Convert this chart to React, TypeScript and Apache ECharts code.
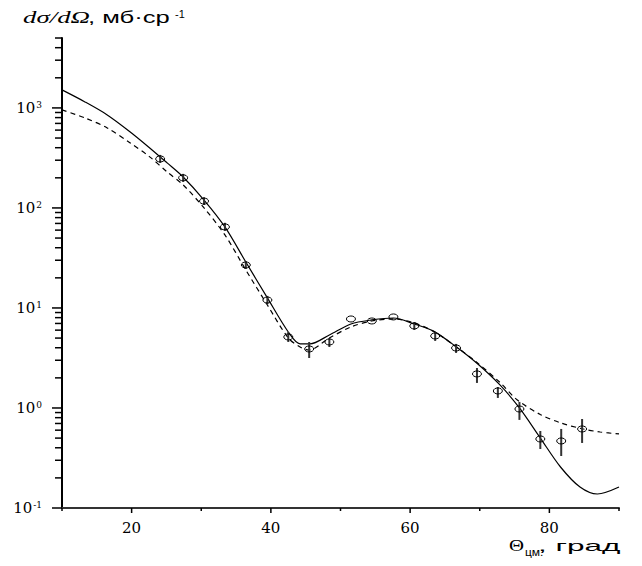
import React, { useEffect, useRef } from "react";
import * as echarts from "echarts";

// Experimental points: angle (deg, c.m.), cross-section (mb/sr), error bar bounds
const thetaExp = [24.1, 27.4, 30.4, 33.4, 36.4, 39.5, 42.5, 45.5, 48.4, 51.5, 54.5, 57.6, 60.6, 63.6, 66.6, 69.6, 72.6, 75.7, 78.7, 81.7, 84.7];
const sigmaExp = [309, 200, 117, 64.6, 26.9, 12.0, 5.13, 3.89, 4.57, 7.76, 7.41, 8.13, 6.61, 5.25, 3.98, 2.19, 1.48, 0.977, 0.49, 0.468, 0.617];
const sigmaLow = [282, 182, 107, 59, 24.5, 10.9, 4.57, 3.16, 4.07, 7.76, 7.41, 8.13, 6.03, 4.68, 3.55, 1.78, 1.26, 0.76, 0.389, 0.331, 0.447];
const sigmaHigh = [339, 219, 128, 71, 29.5, 13.2, 5.75, 4.57, 5.01, 7.76, 7.41, 8.13, 7.24, 5.75, 4.37, 2.51, 1.62, 1.15, 0.589, 0.617, 0.776];

// Solid theoretical curve
const thetaSolid = [10, 13.3, 16.5, 19.8, 22.6, 25.1, 27.4, 30.4, 33.4, 36.4, 39.5, 42.5, 44.2, 45.6, 48.4, 51.5, 54.5, 57.6, 60.6, 63.3, 66.6, 69.6, 72.9, 75.7, 78.7, 81.6, 84.4, 86.9, 90];
const sigmaSolid = [1514, 1148, 851, 575, 398, 282, 204, 120, 64.6, 28.8, 12.6, 5.75, 4.37, 4.37, 5.37, 6.92, 7.59, 7.94, 6.92, 5.9, 4.1, 2.8, 1.7, 1.0, 0.5, 0.257, 0.162, 0.138, 0.162];

// Dashed theoretical curve
const thetaDashed = [10, 13.3, 16.5, 19.8, 22.6, 25.1, 27.4, 30.4, 33.4, 36.4, 39.5, 42.5, 44.2, 45.5, 48.4, 51.5, 54.5, 57.6, 60.6, 63.6, 66.6, 69.6, 72.9, 75.4, 78.7, 81.6, 84.7, 87.3, 90];
const sigmaDashed = [955, 794, 631, 447, 324, 229, 170, 100, 53.7, 24.0, 10.7, 5.01, 4.07, 3.8, 5.01, 6.46, 7.41, 7.76, 7.08, 5.7, 4.1, 2.85, 1.8, 1.2, 0.86, 0.71, 0.62, 0.575, 0.55];

// Axis ticks
const xMajorTicks = [20, 40, 60, 80];
const xMinorTicks = [10, 30, 50, 70, 90];
const yDecades = [0.1, 1, 10, 100, 1000];
const yMantissas = [2, 3, 4, 5, 6, 7, 8, 9];
const X_MIN = 10;
const X_MAX = 90;
const Y_MIN = 0.1;
const Y_MAX = 5000;

export default function App() {
  const ref = useRef<HTMLDivElement>(null);

  useEffect(() => {
    if (!ref.current) return;
    const chart = echarts.init(ref.current, undefined, { renderer: "svg" });

    const expData = thetaExp.map((t, i) => [t, sigmaExp[i], sigmaLow[i], sigmaHigh[i]]);
    const solidData = thetaSolid.map((t, i) => [t, sigmaSolid[i]]);
    const dashedData = thetaDashed.map((t, i) => [t, sigmaDashed[i]]);

    const yTickData: number[][] = [];
    yDecades.forEach((d) => {
      yTickData.push([X_MIN, d, 10]);
      yMantissas.forEach((m) => {
        const v = d * m;
        if (v <= Y_MAX + 1e-9) yTickData.push([X_MIN, v, 7]);
      });
    });
    const xTickData: number[][] = [
      ...xMajorTicks.map((v) => [v, Y_MIN, 5]),
      ...xMinorTicks.map((v) => [v, Y_MIN, 3]),
    ];

    const option: any = {
      animation: false,
      backgroundColor: "#ffffff",
      grid: { left: 62, right: 23, top: 38, bottom: 58, containLabel: false },
      xAxis: {
        type: "value",
        min: X_MIN,
        max: X_MAX,
        interval: 10,
        axisLine: { show: true, lineStyle: { color: "#333", width: 2 } },
        axisTick: { show: false },
        splitLine: { show: false },
        axisLabel: {
          margin: 12,
          fontFamily: "DejaVu Serif",
          fontSize: 15,
          color: "#000",
          formatter: (v: number) => (xMajorTicks.indexOf(v) >= 0 ? String(v) : ""),
        },
      },
      yAxis: {
        type: "log",
        logBase: 10,
        min: Y_MIN,
        max: Y_MAX,
        axisLine: { show: true, lineStyle: { color: "#000", width: 2 } },
        axisTick: { show: false },
        splitLine: { show: false },
        axisLabel: {
          margin: 20,
          showMaxLabel: false,
          formatter: (v: number) => {
            const l = Math.log10(v);
            const e = Math.round(l);
            if (Math.abs(l - e) > 1e-6) return "";
            return `{b|10}{e|${e}}`;
          },
          rich: {
            b: { fontFamily: "DejaVu Serif", fontSize: 15, color: "#000" },
            e: { fontFamily: "DejaVu Serif", fontSize: 9, color: "#000", verticalAlign: "top", padding: [0, 0, 0, 1] },
          },
        },
      },
      graphic: [
        {
          type: "text",
          x: 23,
          y: 26,
          scaleX: 1.58,
          style: { text: "dσ/dΩ", fontFamily: "Liberation Serif", fontStyle: "italic", fontSize: 17, fill: "#000", verticalAlign: "bottom" },
        },
        {
          type: "text",
          x: 88,
          y: 26,
          scaleX: 1.6,
          style: { text: ", мб·ср", fontFamily: "Liberation Sans", fontSize: 16, fill: "#000", verticalAlign: "bottom" },
        },
        {
          type: "text",
          x: 175,
          y: 19,
          scaleX: 1.1,
          style: { text: "-1", fontFamily: "Liberation Sans", fontSize: 10, fill: "#000", verticalAlign: "bottom" },
        },
        {
          type: "text",
          x: 509,
          y: 553,
          scaleX: 1.3,
          style: { text: "Θ", fontFamily: "Liberation Serif", fontSize: 16, fill: "#000", verticalAlign: "bottom" },
        },
        {
          type: "text",
          x: 525,
          y: 557,
          scaleX: 1.2,
          style: { text: "цм.", fontFamily: "Liberation Sans", fontSize: 10, fill: "#000", verticalAlign: "bottom" },
        },
        {
          type: "text",
          x: 538,
          y: 553,
          scaleX: 2.1,
          style: { text: ", град", fontFamily: "Liberation Sans", fontSize: 15, fill: "#000", verticalAlign: "bottom" },
        },
      ],
      series: [
        {
          name: "solid",
          type: "line",
          data: solidData,
          showSymbol: false,
          smooth: 0.3,
          lineStyle: { color: "#000", width: 1.2 },
          z: 3,
        },
        {
          name: "dashed",
          type: "line",
          data: dashedData,
          showSymbol: false,
          smooth: 0.3,
          lineStyle: { color: "#000", width: 1.2, type: [5, 4] },
          z: 3,
        },
        {
          name: "experiment",
          type: "custom",
          data: expData,
          z: 4,
          renderItem: (params: any, api: any) => {
            const x = api.value(0);
            const c = api.coord([x, api.value(1)]);
            const cl = api.coord([x, api.value(2)]);
            const ch = api.coord([x, api.value(3)]);
            return {
              type: "group",
              children: [
                { type: "line", shape: { x1: c[0], y1: cl[1], x2: c[0], y2: ch[1] }, style: { stroke: "#333", lineWidth: 2 } },
                { type: "ellipse", shape: { cx: c[0], cy: c[1], rx: 4.5, ry: 3 }, style: { stroke: "#000", lineWidth: 1, fill: "none" } },
              ],
            };
          },
        },
        {
          name: "yTicks",
          type: "custom",
          data: yTickData,
          silent: true,
          renderItem: (params: any, api: any) => {
            const c = api.coord([api.value(0), api.value(1)]);
            const len = api.value(2);
            return { type: "line", shape: { x1: c[0] - len, y1: c[1], x2: c[0], y2: c[1] }, style: { stroke: "#000", lineWidth: 1.5 } };
          },
        },
        {
          name: "xTicks",
          type: "custom",
          data: xTickData,
          silent: true,
          renderItem: (params: any, api: any) => {
            const c = api.coord([api.value(0), api.value(1)]);
            const len = api.value(2);
            return { type: "line", shape: { x1: c[0], y1: c[1], x2: c[0], y2: c[1] + len }, style: { stroke: "#000", lineWidth: 1.5 } };
          },
        },
      ],
    };

    chart.setOption(option);
    return () => chart.dispose();
  }, []);

  return <div ref={ref} style={{ position: "fixed", left: 0, top: 0, width: 642, height: 566 }} />;
}
